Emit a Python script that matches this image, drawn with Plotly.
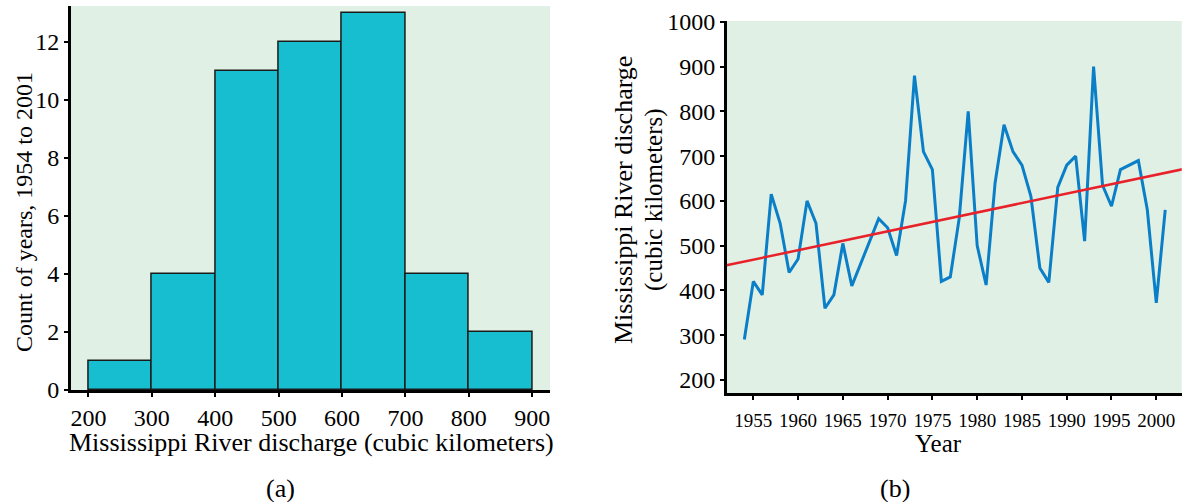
import plotly.graph_objects as go

# ---- Data ----
bin_left = [200, 300, 400, 500, 600, 700, 800]
bin_counts = [1, 4, 11, 12, 13, 4, 2]
bin_width = 100

years = list(range(1954, 2002))
discharge = [290, 420, 390, 615, 550, 440, 470, 600, 550, 360,
             390, 505, 410, 460, 512, 560, 540, 478, 600, 880,
             710, 670, 420, 430, 562, 800, 500, 412, 640, 770,
             710, 680, 610, 450, 418, 630, 680, 700, 510, 900,
             635, 588, 670, 680, 690, 580, 372, 580]

trend_years = [1952, 2003]
trend_values = [456, 671]

hist_xticks = [200, 300, 400, 500, 600, 700, 800, 900]
hist_yticks = [0, 2, 4, 6, 8, 10, 12]
line_xticks = list(range(1955, 2001, 5))
line_yticks = list(range(200, 1001, 100))

# ---- Style ----
W, H = 1185, 502
FONT = "Liberation Serif"
BG = "#e1f0e5"
BAR = "#17becf"
BLUE = "#0a7fc8"
RED = "#e8222a"


def px(x):
    return x / W


def py(y):
    return 1 - y / H


fig = go.Figure()

fig.add_trace(go.Bar(
    x=[b + bin_width / 2 for b in bin_left], y=bin_counts, width=bin_width,
    marker=dict(color=BAR, line=dict(color="#1a1a1a", width=1.5)),
    xaxis="x", yaxis="y", showlegend=False, hoverinfo="skip"))

fig.add_trace(go.Scatter(
    x=years, y=discharge, mode="lines",
    line=dict(color=BLUE, width=3), xaxis="x2", yaxis="y2",
    showlegend=False))

fig.add_trace(go.Scatter(
    x=trend_years, y=trend_values, mode="lines",
    line=dict(color=RED, width=2.5), xaxis="x2", yaxis="y2",
    showlegend=False))

axis_common = dict(showgrid=False, zeroline=False, showline=True,
                   linecolor="black", linewidth=2.5, ticks="outside",
                   tickcolor="black", tickwidth=2, ticklen=4,
                   color="black", automargin=False)

fig.update_layout(
    width=W, height=H,
    margin=dict(l=0, r=0, t=0, b=0, autoexpand=False),
    paper_bgcolor="white",
    plot_bgcolor=BG,
    font=dict(family=FONT, color="black"),
    bargap=0,
    xaxis=dict(domain=[px(70.7), px(550)], range=[172, 928],
               tickvals=hist_xticks, tickfont=dict(size=24, family=FONT),
               anchor="y", **axis_common),
    yaxis=dict(domain=[py(390), py(6)], range=[0, 13.24],
               tickvals=hist_yticks, tickfont=dict(size=24, family=FONT),
               anchor="x", **axis_common),
    xaxis2=dict(domain=[px(726.7), px(1181.7)], range=[1952.03, 2002.84],
                tickvals=line_xticks, tickfont=dict(size=19, family=FONT),
                ticklabelstandoff=4, anchor="y2", **axis_common),
    yaxis2=dict(domain=[py(393.3), py(21)], range=[170, 1002],
                tickvals=line_yticks, tickfont=dict(size=24, family=FONT),
                anchor="x2", **axis_common),
)

ann = [
    dict(text="Mississippi River discharge (cubic kilometers)", x=px(311), y=py(442), size=26, angle=0),
    dict(text="Count of years, 1954 to 2001", x=px(24), y=py(212), size=24, angle=-90),
    dict(text="(a)", x=px(280), y=py(488), size=26, angle=0),
    dict(text="Year", x=px(938), y=py(443), size=25, angle=0),
    dict(text="Mississippi River discharge", x=px(623), y=py(200), size=26, angle=-90),
    dict(text="(cubic kilometers)", x=px(654), y=py(200), size=25, angle=-90),
    dict(text="(b)", x=px(895), y=py(488), size=26, angle=0),
]
for a in ann:
    fig.add_annotation(text=a["text"], x=a["x"], y=a["y"], xref="paper", yref="paper",
                       xanchor="center", yanchor="middle", showarrow=False,
                       textangle=a["angle"], font=dict(family=FONT, size=a["size"], color="black"))

fig.write_html("out.html")
